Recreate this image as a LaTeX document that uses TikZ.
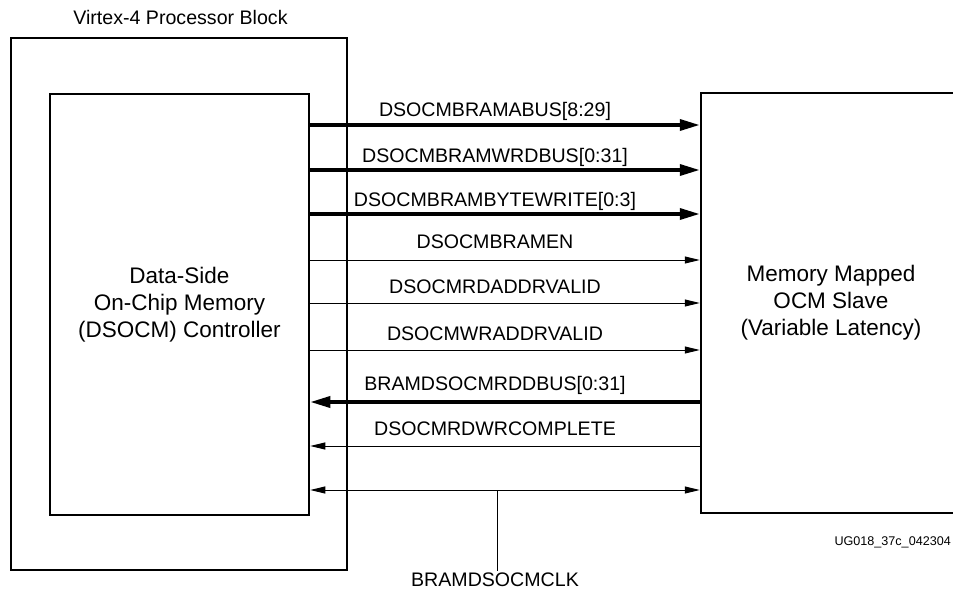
\documentclass[tikz,border=0pt]{standalone}
\usepackage{fontspec}
\setmainfont{Liberation Sans}
\usetikzlibrary{arrows.meta}
\begin{document}
\begin{tikzpicture}[x=1pt,y=-1pt,
  box/.style={draw, line width=2.5pt, rectangle, inner sep=0pt},
  boxlabel/.style={font=\fontsize{22.5}{27}\selectfont, align=center},
  sig/.style={font=\fontsize{19.6}{23}\selectfont, anchor=base, inner sep=0pt},
  bus/.style={line width=3.5pt, -{Triangle[length=20pt,width=11pt]}},
  busback/.style={line width=3.5pt, {Triangle[length=20pt,width=11pt]}-},
  wire/.style={line width=1pt, -{Triangle[length=15pt,width=7pt]}},
  wireback/.style={line width=1pt, {Triangle[length=15pt,width=7pt]}-},
  wireboth/.style={line width=1pt, {Triangle[length=15pt,width=7pt]}-{Triangle[length=15pt,width=7pt]}},
]
\useasboundingbox (0,0) rectangle (953,599);
\clip (0,0) rectangle (953,599);

\node[box, minimum width=336pt, minimum height=532pt] (ppc) at (179,304) {};
\node[font=\fontsize{19.6}{23}\selectfont, anchor=base, inner sep=0pt] (title) at (180.5,25) {Virtex-4 Processor Block};
\node[box, boxlabel, minimum width=259pt, minimum height=421pt] (dsocm) at (179.5,304.5) {Data-Side\\On-Chip Memory\\(DSOCM) Controller};
\node[box, boxlabel, minimum width=260pt, minimum height=420pt] (slave) at (831,303) {Memory Mapped\\OCM Slave\\(Variable Latency)};

% outgoing buses
\draw[bus] (dsocm.east |- 0,125) -- (slave.west |- 0,125);
\draw[bus] (dsocm.east |- 0,170) -- (slave.west |- 0,170);
\draw[bus] (dsocm.east |- 0,214) -- (slave.west |- 0,214);
% outgoing wires
\draw[wire] (dsocm.east |- 0,260) -- (slave.west |- 0,260);
\draw[wire] (dsocm.east |- 0,303) -- (slave.west |- 0,303);
\draw[wire] (dsocm.east |- 0,350) -- (slave.west |- 0,350);
% incoming
\draw[busback] (dsocm.east |- 0,402) -- (slave.west |- 0,402);
\draw[wireback] (dsocm.east |- 0,446) -- (slave.west |- 0,446);
% clock
\draw[wireboth] (dsocm.east |- 0,490) -- (slave.west |- 0,490);
\coordinate (tap) at (497,490);

\node[sig] (l1) at (495,117) {DSOCMBRAMABUS[8:29]};
\node[sig] (l2) at (495,162) {DSOCMBRAMWRDBUS[0:31]};
\node[sig] (l3) at (495,206) {DSOCMBRAMBYTEWRITE[0:3]};
\node[sig] (l4) at (495,248) {DSOCMBRAMEN};
\node[sig] (l5) at (495,293) {DSOCMRDADDRVALID};
\node[sig] (l6) at (495,340) {DSOCMWRADDRVALID};
\node[sig] (l7) at (495,390) {BRAMDSOCMRDDBUS[0:31]};
\node[sig] (l8) at (495,435) {DSOCMRDWRCOMPLETE};
\node[sig, inner sep=1pt] (clk) at (495,586) {BRAMDSOCMCLK};
\draw[line width=1pt] (tap) -- (tap |- clk.north);

\node[font=\fontsize{12.6}{15}\selectfont, anchor=base east, inner sep=0pt] (fig) at (951,545) {UG018\_37c\_042304};
\end{tikzpicture}
\end{document}
